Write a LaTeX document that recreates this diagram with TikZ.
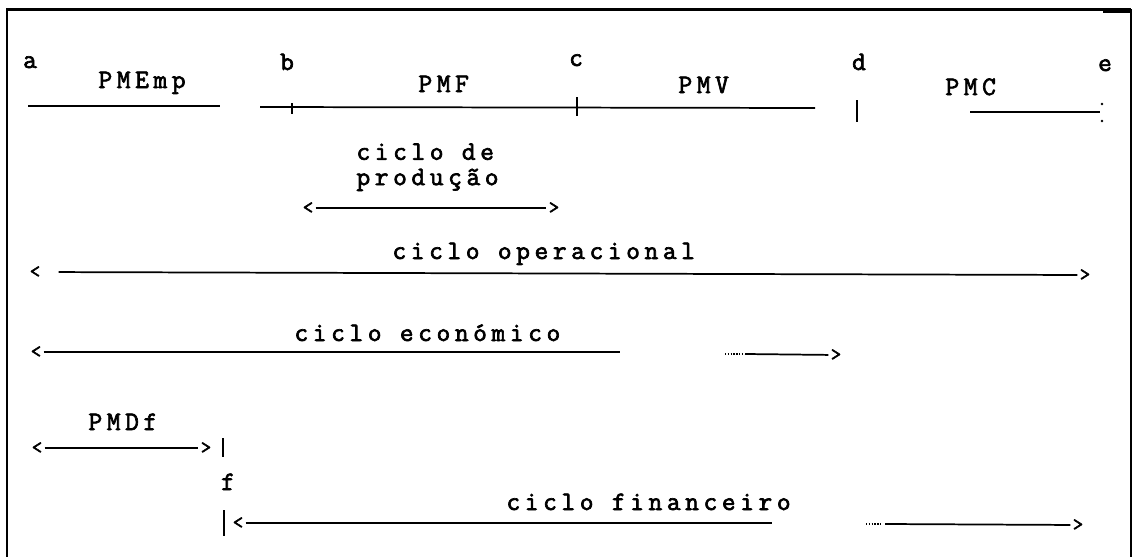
\documentclass[tikz,border=0pt]{standalone}
\usepackage{fontspec}
\newfontfamily\typewr[LetterSpace=17.25, FakeBold=2.5]{Latin Modern Mono}
\newfontfamily\typetip[FakeBold=2.5]{Latin Modern Mono}

\tikzset{every picture/.style={line width=0.75pt}}
\tikzset{
  lbl/.style={font=\typewr\fontsize{20}{19}\selectfont, inner sep=0pt, anchor=base west},
  letter/.style={font=\typewr\fontsize{20}{19}\selectfont, inner sep=0pt, anchor=base},
  tipmark/.style={font=\typetip\fontsize{15}{16}\selectfont, inner sep=1.5pt},
  rule/.style={line width=1.3pt},
  tick/.style={line width=1.1pt},
  frame/.style={line width=2.2pt, line join=miter},
}

\begin{document}
\begin{tikzpicture}[x=0.75pt,y=0.75pt,yscale=-1,xscale=1]
\useasboundingbox (0,0) rectangle (1133,557);

%Shape: Frame
\draw [frame] (7,557) -- (7,9.5) -- (1131,9.5) ;
\draw [line width=1pt] (1131,9.5) -- (1131,557) ;
\fill (1103,9) rectangle (1132,12.5) ;

% Text Node
\node [letter] (a) at (30,68) {a};
\node [letter] (b) at (287,70) {b};
\node [letter] (c) at (576,66) {c};
\node [letter] (d) at (859,70) {d};
\node [letter] (e) at (1105,71) {e};
% Text Node
\node [lbl] (pmemp) at (98,88) {PMEmp};
\node [lbl] (pmf) at (418,92) {PMF};
\node [lbl] (pmv) at (678,93) {PMV};
\node [lbl] (pmc) at (945,95) {PMC};

%Straight Lines
\coordinate (ta) at (28,106);
\coordinate (tab) at (220,106);
\draw [rule] (ta) -- (tab) ;
%Straight Lines
\coordinate (tb) at (260,107);
\coordinate (tcd) at (815,108);
\draw [rule] (tb) -- (tcd) ;
\draw [tick] (292,103) -- (292,114) ;
\draw [tick] (577,97) -- (577,116) ;
\draw [tick] (857,100) -- (857,122) ;
%Straight Lines
\coordinate (td) at (970,112);
\coordinate (te) at (1100,112);
\draw [rule] (td) -- (te) ;
\fill (1102,104) circle (1.3) (1102,121) circle (1.3) ;

% Text Node
\node [lbl, align=left, anchor=north west] (prod) at (356,143) {ciclo de\\produção};
\node [tipmark] (prodL) at (308,208) {<};
\node [tipmark] (prodR) at (554,208) {>};
\draw [rule] (prodL) -- (prodR) ;

% Text Node
\node [lbl] (oper) at (392,259) {ciclo operacional};
\node [tipmark] (operL) at (35,272) {<};
\node [tipmark] (operR) at (1085,275) {>};
\draw [rule, shorten <=12pt] (operL) -- (operR) ;

% Text Node
\node [lbl] (econ) at (294,341) {ciclo económico};
\node [tipmark] (econL) at (36,352) {<};
\coordinate (econA) at (620,352);
\coordinate (econB) at (745,354);
\node [tipmark] (econR) at (836,355) {>};
\draw [rule] (econL) -- (econA) ;
\draw [tick, densely dotted] (725,354) -- (742,354) ;
\draw [rule] (econB) -- (econR) ;

% Text Node
\node [lbl] (pmdf) at (88,430) {PMDf};
\node [tipmark] (pmdfL) at (37,448) {<};
\node [tipmark] (pmdfR) at (206,448) {>};
\draw [rule] (pmdfL) -- (pmdfR) ;
\draw [tick] (223,438) -- (223,457) ;

% Text Node
\node [letter] (f) at (228,490) {f};

% Text Node
\node [lbl] (fin) at (506,510) {ciclo financeiro};
\draw [tick] (224,510) -- (224,536) ;
\node [tipmark] (finL) at (238,523) {<};
\coordinate (finA) at (772,523);
\coordinate (finB) at (885,524);
\node [tipmark] (finR) at (1078,525) {>};
\draw [rule] (finL) -- (finA) ;
\draw [tick, densely dotted] (866,524) -- (882,524) ;
\draw [rule] (finB) -- (finR) ;

\end{tikzpicture}
\end{document}
